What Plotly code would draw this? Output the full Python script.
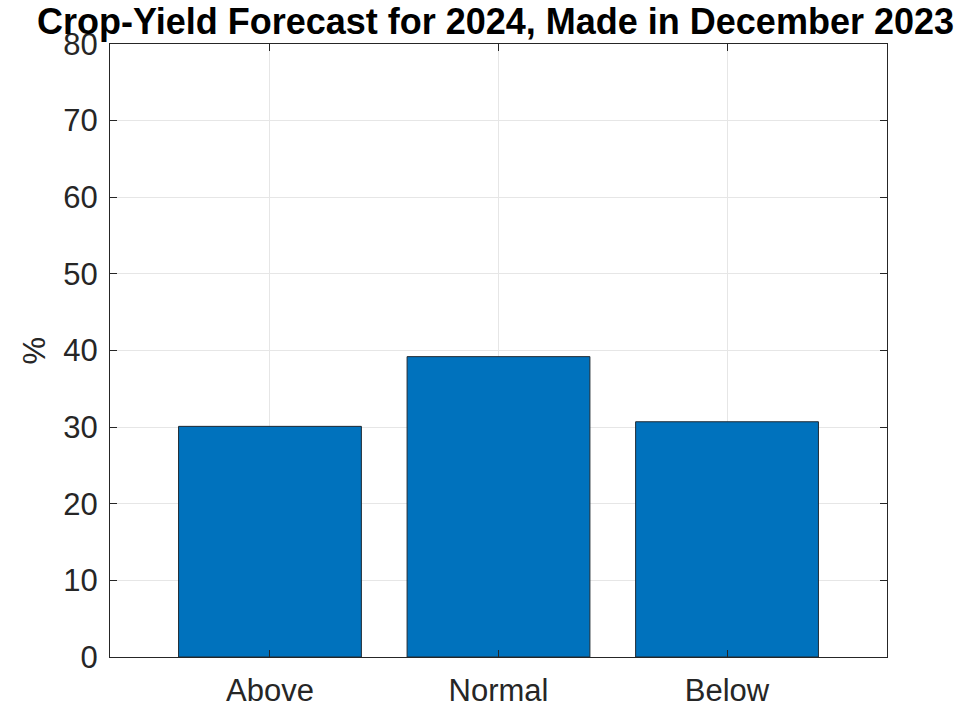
import plotly.graph_objects as go

categories = ["Above", "Normal", "Below"]
percent = [30.1, 39.2, 30.7]
y_ticks = [0, 10, 20, 30, 40, 50, 60, 70, 80]

W, H = 978, 709
ML, MR, MT, MB = 110, 91, 44, 52
axis_color = "#262626"
font_family = "Liberation Sans, Arial, Helvetica, sans-serif"

fig = go.Figure(
    go.Bar(
        x=categories,
        y=percent,
        width=0.8,
        marker=dict(color="#0072BD", line=dict(color="#1f2a33", width=1)),
    )
)

fig.update_layout(
    width=W,
    height=H,
    margin=dict(l=ML, r=MR, t=MT, b=MB, autoexpand=False),
    paper_bgcolor="white",
    plot_bgcolor="white",
    showlegend=False,
    font=dict(family=font_family, color=axis_color, size=31),
    title=dict(
        text="<b>Crop-Yield Forecast for 2024, Made in December 2023</b>",
        font=dict(family=font_family, size=36, color="black"),
        x=(ML + (W - MR)) / 2 / W - 3 / W,
        xanchor="center",
        xref="container",
        y=1 - 21 / H,
        yanchor="middle",
        yref="container",
    ),
    annotations=[
        dict(
            text="%",
            textangle=-90,
            xref="paper",
            yref="paper",
            x=0,
            y=0.5,
            xanchor="center",
            yanchor="middle",
            xshift=-(ML - 34),
            showarrow=False,
            font=dict(family=font_family, size=31, color=axis_color),
        )
    ],
)

fig.update_xaxes(
    type="category",
    categoryorder="array",
    categoryarray=categories,
    range=[-0.7, 2.7],
    automargin=False,
    showline=True,
    linecolor=axis_color,
    linewidth=1,
    mirror="ticks",
    ticks="inside",
    ticklen=7,
    tickcolor=axis_color,
    showgrid=True,
    gridcolor="#e6e6e6",
    gridwidth=1,
    tickfont=dict(size=31, color=axis_color),
    ticklabelstandoff=6,
    zeroline=False,
)

fig.update_yaxes(
    range=[0, 80],
    tickmode="array",
    tickvals=y_ticks,
    ticktext=[str(v) for v in y_ticks],
    automargin=False,
    showline=True,
    linecolor=axis_color,
    linewidth=1,
    mirror="ticks",
    ticks="inside",
    ticklen=7,
    tickcolor=axis_color,
    showgrid=True,
    gridcolor="#e6e6e6",
    gridwidth=1,
    tickfont=dict(size=31, color=axis_color),
    ticklabelstandoff=5,
    zeroline=False,
)

fig.write_html("out.html")
